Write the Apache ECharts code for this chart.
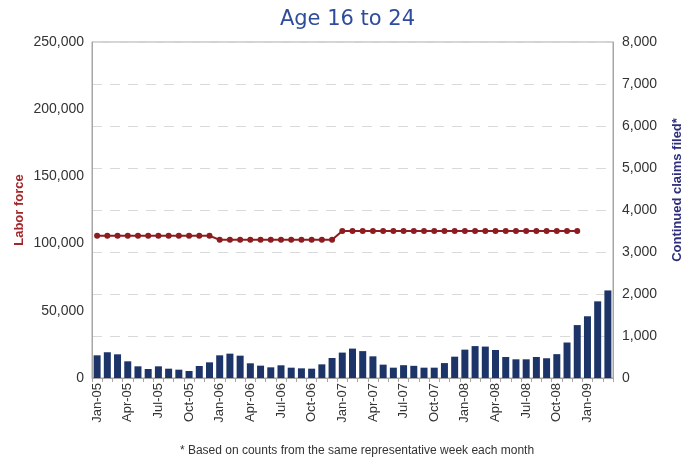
<!DOCTYPE html>
<html>
<head>
<meta charset="utf-8">
<script src="https://cdn.jsdelivr.net/npm/echarts@6/dist/echarts.min.js"></script>
<style>
  html, body { margin: 0; padding: 0; background: #fff; }
  #chart { width: 695px; height: 458px; }
</style>
</head>
<body>
<div id="chart"></div>
<script>
// Monthly categories, Jan-05 through Mar-09
const months = [
  'Jan-05','Feb-05','Mar-05','Apr-05','May-05','Jun-05','Jul-05','Aug-05','Sep-05','Oct-05','Nov-05','Dec-05',
  'Jan-06','Feb-06','Mar-06','Apr-06','May-06','Jun-06','Jul-06','Aug-06','Sep-06','Oct-06','Nov-06','Dec-06',
  'Jan-07','Feb-07','Mar-07','Apr-07','May-07','Jun-07','Jul-07','Aug-07','Sep-07','Oct-07','Nov-07','Dec-07',
  'Jan-08','Feb-08','Mar-08','Apr-08','May-08','Jun-08','Jul-08','Aug-08','Sep-08','Oct-08','Nov-08','Dec-08',
  'Jan-09','Feb-09','Mar-09'
];

// Continued claims filed (right axis)
const continuedClaims = [
  540, 613, 564, 397, 278, 214, 278, 222, 198, 167, 286, 373,
  540, 580, 532, 350, 294, 254, 302, 246, 230, 222, 325, 476,
  605, 700, 640, 516, 318, 246, 305, 290, 246, 246, 355, 508,
  675, 760, 748, 667, 500, 445, 445, 500, 470, 568, 845, 1260,
  1470, 1825, 2085
];

// Labor force (left axis), annual levels through Dec-08
const laborForce = [
  105800, 105800, 105800, 105800, 105800, 105800, 105800, 105800, 105800, 105800, 105800, 105800,
  102800, 102800, 102800, 102800, 102800, 102800, 102800, 102800, 102800, 102800, 102800, 102800,
  109300, 109300, 109300, 109300, 109300, 109300, 109300, 109300, 109300, 109300, 109300, 109300,
  109300, 109300, 109300, 109300, 109300, 109300, 109300, 109300, 109300, 109300, 109300, 109300
];

const chartTitle = 'Age 16 to 24';
const leftAxisName = 'Labor force';
const rightAxisName = 'Continued claims filed*';
const footnote = '* Based on counts from the same representative week each month';

const labelFont = 'Liberation Sans, Arial, sans-serif';
const chart = echarts.init(document.getElementById('chart'), null, { renderer: 'canvas' });

chart.setOption({
  animation: false,
  backgroundColor: '#ffffff',
  title: [{
    text: chartTitle,
    left: 'center',
    top: 4,
    textStyle: { fontFamily: 'DejaVu Sans, Verdana, sans-serif', fontSize: 21, fontWeight: 'normal', color: '#2f4c9c', letterSpacing: 1.5 }
  }, {
    text: footnote,
    left: 352,
    textAlign: 'center',
    top: 440,
    textStyle: { fontFamily: labelFont, fontSize: 12, fontWeight: 'normal', color: '#333' }
  }],
  grid: {
    left: 92, right: 82, top: 42, bottom: 80,
    show: true, borderColor: '#a6a6a6', borderWidth: 1, backgroundColor: 'transparent'
  },
  xAxis: {
    type: 'category',
    data: months,
    boundaryGap: true,
    axisLine: { lineStyle: { color: '#a6a6a6', width: 1 } },
    axisTick: { show: true, interval: 0, length: 4, lineStyle: { color: '#a6a6a6' } },
    axisLabel: {
      interval: 2, rotate: 90, margin: 5,
      fontFamily: labelFont, fontSize: 13, color: '#333'
    },
    splitLine: { show: false }
  },
  yAxis: [{
    type: 'value',
    min: 0, max: 250000, interval: 50000,
    name: leftAxisName,
    nameLocation: 'middle',
    nameRotate: 90,
    nameGap: 66,
    nameMoveOverlap: false,
    nameTextStyle: { fontFamily: labelFont, fontSize: 13, fontWeight: 'bold', color: '#a3262a' },
    axisLine: { show: true, lineStyle: { color: '#a6a6a6' } },
    axisTick: { show: false },
    axisLabel: {
      margin: 8, fontFamily: labelFont, fontSize: 14, color: '#333',
      formatter: v => v.toLocaleString('en-US')
    },
    splitLine: { show: false }
  }, {
    type: 'value',
    min: 0, max: 8000, interval: 1000,
    position: 'right',
    name: rightAxisName,
    nameLocation: 'middle',
    nameRotate: 90,
    nameGap: 58,
    nameTextStyle: { fontFamily: labelFont, fontSize: 13, fontWeight: 'bold', color: '#2e2e7c', padding: [0, 0, 0, 40] },
    axisLine: { show: true, lineStyle: { color: '#a6a6a6' } },
    axisTick: { show: false },
    axisLabel: {
      margin: 9, fontFamily: labelFont, fontSize: 14, color: '#333',
      formatter: v => v.toLocaleString('en-US')
    },
    splitLine: { show: true, lineStyle: { color: '#d9d9d9', type: [10, 8], width: 1 } }
  }],
  series: [{
    name: rightAxisName,
    type: 'bar',
    yAxisIndex: 1,
    data: continuedClaims,
    barWidth: 7,
    itemStyle: { color: '#1c3468' },
    z: 2
  }, {
    name: leftAxisName,
    type: 'line',
    yAxisIndex: 0,
    data: laborForce,
    symbol: 'circle',
    symbolSize: 6,
    lineStyle: { color: '#8c1c1f', width: 2 },
    itemStyle: { color: '#8c1c1f' },
    z: 3
  }]
});
</script>
</body>
</html>
